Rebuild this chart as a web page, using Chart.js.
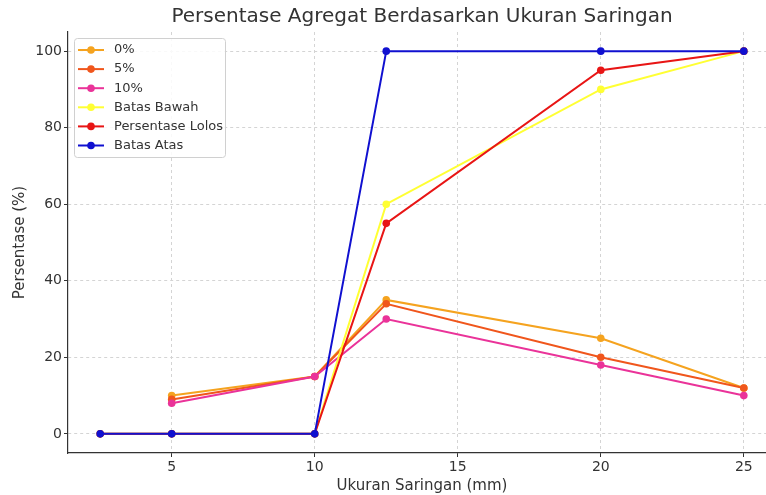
<!DOCTYPE html>
<html>
<head>
<meta charset="utf-8">
<script src="https://cdn.jsdelivr.net/npm/chart.js@4"></script>
<style>
    html, body { margin: 0; padding: 0; background: #fff; overflow: hidden; }
    #wrap { width: 766px; height: 495px; overflow: hidden; }
</style>
</head>
<body>
<div id="wrap"><canvas id="sieveChart" width="776" height="495"></canvas></div>
<script>
// sieve sizes (mm)
const sizesMix = [5, 10, 12.5, 20, 25];
const sizesSpec = [2.5, 5, 10, 12.5, 20, 25];

// passing percentages
const mix0 = [10, 15, 35, 25, 12];
const mix5 = [9, 15, 34, 20, 12];
const mix10 = [8, 15, 30, 18, 10];
const lowerLimit = [0, 0, 0, 60, 90, 100];
const passing = [0, 0, 0, 55, 95, 100];
const upperLimit = [0, 0, 0, 100, 100, 100];

const seriesNames = ['0%', '5%', '10%', 'Batas Bawah', 'Persentase Lolos', 'Batas Atas'];
const xTicks = [5, 10, 15, 20, 25];
const yTicks = [0, 20, 40, 60, 80, 100];

const colors = [
    '#f5a31f', // orange
    '#f0561c', // orange red
    '#ea3399', // pink
    '#ffff33', // yellow
    '#e81515', // red
    '#1010d0'  // blue
];

function toPoints(xs, ys) {
    return ys.map((y, i) => ({ x: xs[i], y: y }));
}

const seriesData = [
    toPoints(sizesMix, mix0),
    toPoints(sizesMix, mix5),
    toPoints(sizesMix, mix10),
    toPoints(sizesSpec, lowerLimit),
    toPoints(sizesSpec, passing),
    toPoints(sizesSpec, upperLimit)
];

const datasets = seriesNames.map((name, i) => ({
    label: name,
    data: seriesData[i],
    borderColor: colors[i],
    backgroundColor: colors[i],
    borderWidth: 2,
    pointRadius: 3.8,
    pointHoverRadius: 3.8,
    pointBorderWidth: 0,
    tension: 0,
    order: seriesNames.length - i   // later series on top
}));

// legend box drawn inside the plot area, top left
const boxLegend = {
    id: 'boxLegend',
    afterDatasetsDraw(chart) {
        const ctx = chart.ctx;
        const x0 = 74, y0 = 38, w = 151, h = 119;
        ctx.save();
        ctx.fillStyle = 'rgba(255,255,255,0.85)';
        ctx.strokeStyle = '#d0d0d0';
        ctx.lineWidth = 1;
        ctx.beginPath();
        ctx.roundRect(x0 + 0.5, y0 + 0.5, w, h, 3);
        ctx.fill();
        ctx.stroke();
        ctx.font = '13px "DejaVu Sans"';
        ctx.textBaseline = 'middle';
        seriesNames.forEach((name, i) => {
            const y = 50 + i * 19.1;
            ctx.strokeStyle = colors[i];
            ctx.lineWidth = 2;
            ctx.beginPath();
            ctx.moveTo(78, y);
            ctx.lineTo(104, y);
            ctx.stroke();
            ctx.fillStyle = colors[i];
            ctx.beginPath();
            ctx.arc(91, y, 3.8, 0, Math.PI * 2);
            ctx.fill();
            ctx.fillStyle = '#333';
            ctx.fillText(name, 114, y);
        });
        ctx.restore();
    }
};

const ctx = document.getElementById('sieveChart').getContext('2d');
new Chart(ctx, {
    type: 'line',
    data: { datasets: datasets },
    plugins: [boxLegend],
    options: {
        responsive: false,
        animation: false,
        layout: { padding: 0, autoPadding: false },
        scales: {
            x: {
                type: 'linear',
                min: 1.375,
                max: 26.125,
                afterBuildTicks: function(scale) {
                    scale.ticks = xTicks.map(v => ({ value: v }));
                },
                afterFit: function(scale) {
                    scale.height = 42;
                    scale.paddingLeft = 0;
                    scale.paddingRight = 0;
                },
                grid: {
                    color: '#d4d4d4',
                    tickColor: '#333',
                    tickLength: 4,
                    lineWidth: 1
                },
                border: { display: true, color: '#333', width: 1.2, dash: [3, 3] },
                ticks: {
                    color: '#333',
                    padding: 2,
                    maxRotation: 0,
                    font: { family: 'DejaVu Sans', size: 14 }
                },
                title: {
                    display: true,
                    text: 'Ukuran Saringan (mm)',
                    color: '#333',
                    padding: { top: 0, bottom: 0 },
                    font: { family: 'DejaVu Sans', size: 15 }
                }
            },
            y: {
                min: -5,
                max: 105,
                afterBuildTicks: function(scale) {
                    scale.ticks = yTicks.map(v => ({ value: v }));
                },
                afterFit: function(scale) {
                    scale.width = 68;
                },
                grid: {
                    color: '#d4d4d4',
                    tickColor: '#333',
                    tickLength: 4,
                    lineWidth: 1
                },
                border: { display: true, color: '#333', width: 1.2, dash: [3, 3] },
                ticks: {
                    color: '#333',
                    padding: 2,
                    font: { family: 'DejaVu Sans', size: 14 }
                },
                title: {
                    display: true,
                    text: 'Persentase (%)',
                    color: '#333',
                    padding: { top: 11, bottom: 0 },
                    font: { family: 'DejaVu Sans', size: 15 }
                }
            }
        },
        plugins: {
            legend: { display: false },
            tooltip: { enabled: false },
            title: {
                display: true,
                fullSize: false,
                text: 'Persentase Agregat Berdasarkan Ukuran Saringan',
                color: '#333',
                padding: { top: 5, bottom: 3 },
                font: { family: 'DejaVu Sans', size: 20, weight: 'normal' }
            }
        }
    }
});
</script>
</body>
</html>
